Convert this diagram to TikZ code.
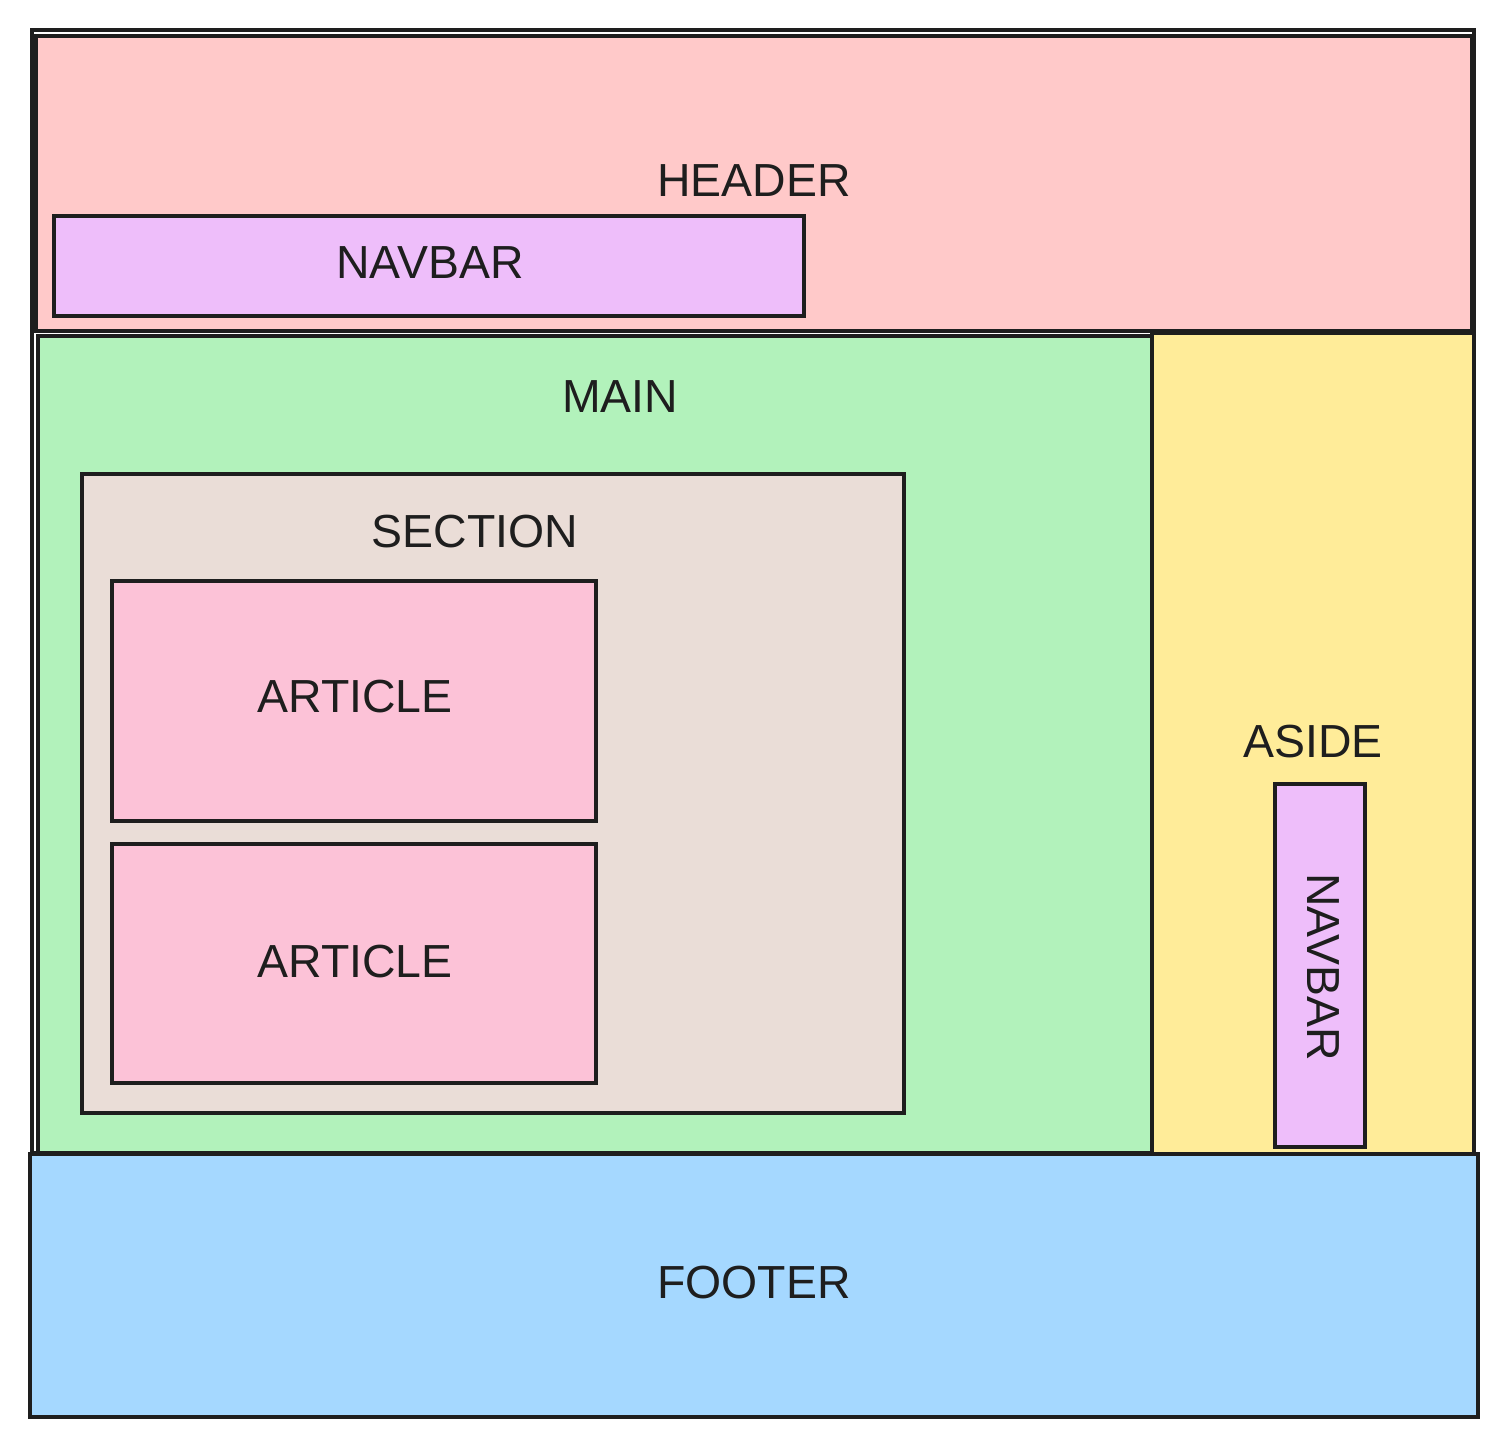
\documentclass[tikz,border=0pt]{standalone}
\usepackage{fontspec}
\setmainfont{Liberation Sans}
\usepackage{tikz}
\definecolor{inkc}{HTML}{1E1E1E}
\definecolor{headerc}{HTML}{FFC9C9}
\definecolor{navc}{HTML}{EEBEFA}
\definecolor{mainc}{HTML}{B2F2BB}
\definecolor{asidec}{HTML}{FFEC99}
\definecolor{sectionc}{HTML}{EADDD7}
\definecolor{articlec}{HTML}{FCC2D7}
\definecolor{footerc}{HTML}{A5D8FF}
\tikzset{
  box/.style={draw=inkc, line width=1pt},
  lbl/.style={text=inkc, font=\fontsize{13.2}{15}\selectfont}
}

\begin{document}
\begin{tikzpicture}
			%%%%% START %%%%%
			\useasboundingbox (0, 0) rectangle (15.08, -14.48);
			
			\draw[box, fill=white] (0.32, -0.30) rectangle (14.74, -11.53);
			
			\draw[box, fill=headerc] (0.36, -0.36) rectangle (14.72, -3.31);
			\node[lbl] (header) at (7.54, -1.81) {HEADER};
			\draw[box, fill=navc] (0.54, -2.16) rectangle (8.04, -3.16);
			\node[lbl] (navtop) at (4.30, -2.63) {NAVBAR};
			
			\draw[box, fill=mainc] (0.38, -3.36) rectangle (11.52, -11.53);
			\node[lbl] (main) at (6.20, -3.97) {MAIN};
			
			\draw[box, fill=sectionc] (0.82, -4.74) rectangle (9.04, -11.13);
			\node[lbl] (section) at (4.75, -5.32) {SECTION};
			
			\draw[box, fill=articlec] (1.12, -5.81) rectangle (5.96, -8.21);
			\node[lbl] (articleA) at (3.55, -6.97) {ARTICLE};
			\draw[box, fill=articlec] (1.12, -8.44) rectangle (5.96, -10.83);
			\node[lbl] (articleB) at (3.55, -9.61) {ARTICLE};
			
			\draw[box, fill=asidec] (11.52, -3.33) rectangle (14.74, -11.55);
			\node[lbl] (aside) at (13.13, -7.41) {ASIDE};
			\draw[box, fill=navc] (12.75, -7.84) rectangle (13.65, -11.47);
			\node[lbl, rotate=-90] (navside) at (13.23, -9.67) {NAVBAR};
			
			\draw[box, fill=footerc] (0.30, -11.54) rectangle (14.78, -14.17);
			\node[lbl] (footer) at (7.54, -12.82) {FOOTER};
			%%%%% END %%%%%
\end{tikzpicture}
\end{document}
